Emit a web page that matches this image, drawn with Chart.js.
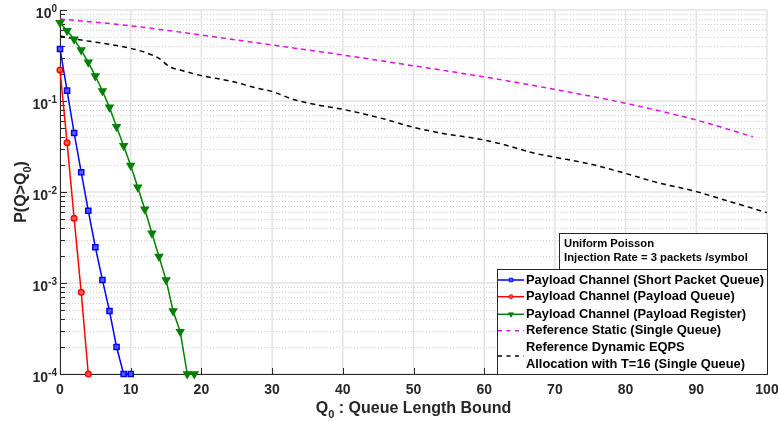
<!DOCTYPE html>
<html>
<head>
<meta charset="utf-8">
<script src="https://cdn.jsdelivr.net/npm/chart.js@4.4.1/dist/chart.umd.min.js"></script>
<style>
  html, body { margin: 0; padding: 0; background: #fff; }
  canvas { display: block; }
</style>
</head>
<body>
<canvas id="chart" width="778" height="421"></canvas>
<script>
// queue length bound Q0 and P(Q > Q0) for each curve
const qShort = [0, 1, 2, 3, 4, 5, 6, 7, 8, 9, 10];
const pShort = [0.373, 0.130, 0.0445, 0.0165, 0.00623, 0.00247, 0.00108, 0.000492, 0.000198, 0.0001, 0.0001];

const qPayload = [0, 1, 2, 3, 4];
const pPayload = [0.219, 0.0348, 0.00514, 0.000791, 0.0001];

const qRegister = [0, 1, 2, 3, 4, 5, 6, 7, 8, 9, 10, 11, 12, 13, 14, 15, 16, 17, 18, 19];
const pRegister = [0.725, 0.592, 0.477, 0.363, 0.266, 0.188, 0.129, 0.0853, 0.0522, 0.0323,
  0.0195, 0.0113, 0.00645, 0.00352, 0.00195, 0.00108, 0.000492, 0.000292, 0.0001, 0.0001];

const qStatic = [0, 9, 20, 30, 40, 50, 60, 70, 80, 90, 98];
const pStatic = [0.796, 0.684, 0.531, 0.413, 0.320, 0.244, 0.184, 0.134, 0.0944, 0.0618, 0.0405];

const qDynamic = [0, 3, 7, 10, 12, 14, 15.5, 17, 20, 24, 28, 30, 33, 36.5, 40, 43, 46, 50, 54, 60, 63, 67, 70, 75, 80, 84, 90, 94, 100];
const pDynamic = [0.518, 0.468, 0.420, 0.379, 0.343, 0.294, 0.238, 0.219, 0.190, 0.166, 0.138, 0.127, 0.104, 0.0904,
  0.0811, 0.0720, 0.0629, 0.0514, 0.0442, 0.0373, 0.0328, 0.0268, 0.0241, 0.0203, 0.0160, 0.0130, 0.0101, 0.00817, 0.00593];

const xTicks = [0, 10, 20, 30, 40, 50, 60, 70, 80, 90, 100];
const yExponents = [0, -1, -2, -3, -4];

const infoLines = ['Uniform Poisson', 'Injection Rate = 3 packets /symbol'];

const INK = '#262626';
const FONT = '"Liberation Sans", Arial, sans-serif';

function pts(xs, ys) {
  return xs.map((x, i) => ({ x: x, y: ys[i] }));
}

function fitFont(ctx, text, width, base) {
  ctx.font = 'bold ' + base + 'px ' + FONT;
  const w = ctx.measureText(text).width;
  return base * width / w;
}

const decor = {
  id: 'decor',
  beforeDatasetsDraw(chart) {
    const { ctx, chartArea: a, scales: { x, y } } = chart;
    ctx.save();
    // minor log grid, dotted
    ctx.lineWidth = 1;
    ctx.strokeStyle = '#d2d2d2';
    ctx.setLineDash([1, 2]);
    for (let k = -4; k < 0; k++) {
      for (let m = 2; m <= 9; m++) {
        const py = Math.round(y.getPixelForValue(m * Math.pow(10, k))) + 0.5;
        ctx.beginPath();
        ctx.moveTo(a.left, py);
        ctx.lineTo(a.right, py);
        ctx.stroke();
      }
    }
    ctx.setLineDash([]);
    // major grid
    ctx.strokeStyle = '#e3e3e3';
    ctx.lineWidth = 1.5;
    yExponents.forEach(e => {
      const py = y.getPixelForValue(Math.pow(10, e));
      ctx.beginPath();
      ctx.moveTo(a.left, py);
      ctx.lineTo(a.right, py);
      ctx.stroke();
    });
    xTicks.forEach(v => {
      const px = x.getPixelForValue(v);
      ctx.beginPath();
      ctx.moveTo(px, a.top);
      ctx.lineTo(px, a.bottom);
      ctx.stroke();
    });
    // axes with inward ticks
    ctx.strokeStyle = INK;
    ctx.lineWidth = 1;
    ctx.beginPath();
    ctx.moveTo(a.left + 0.5, a.top);
    ctx.lineTo(a.left + 0.5, a.bottom + 0.5);
    ctx.lineTo(a.right, a.bottom + 0.5);
    ctx.stroke();
    ctx.beginPath();
    for (let k = -4; k <= 0; k++) {
      for (let m = 1; m <= (k === 0 ? 1 : 9); m++) {
        const py = Math.round(y.getPixelForValue(m * Math.pow(10, k))) + 0.5;
        ctx.moveTo(a.left, py);
        ctx.lineTo(a.left + (m === 1 ? 7 : 5), py);
      }
    }
    xTicks.forEach(v => {
      const px = Math.round(x.getPixelForValue(v)) + 0.5;
      ctx.moveTo(px, a.bottom);
      ctx.lineTo(px, a.bottom - 6);
    });
    ctx.stroke();
    ctx.restore();
  },
  afterDraw(chart) {
    const { ctx, chartArea: a, scales: { x, y } } = chart;
    ctx.save();
    ctx.fillStyle = INK;

    // x tick labels
    ctx.font = 'bold 14px ' + FONT;
    ctx.textAlign = 'center';
    ctx.textBaseline = 'middle';
    xTicks.forEach(v => ctx.fillText(String(v), x.getPixelForValue(v), a.bottom + 16));

    // y tick labels 10^k
    yExponents.forEach(e => {
      const py = y.getPixelForValue(Math.pow(10, e));
      const sup = e === 0 ? '0' : '-' + Math.abs(e);
      ctx.font = 'bold 10px ' + FONT;
      const ws = ctx.measureText(sup).width;
      ctx.textAlign = 'left';
      ctx.fillText(sup, a.left - 3 - ws, py - 1);
      ctx.font = 'bold 14px ' + FONT;
      ctx.textAlign = 'right';
      ctx.fillText('10', a.left - 3 - ws, py + 4);
    });

    // x title: Q0 : Queue Length Bound
    const cx = (a.left + a.right) / 2;
    const ty = a.bottom + 35;
    ctx.font = 'bold 16px ' + FONT;
    const wQ = ctx.measureText('Q').width;
    const rest = ' : Queue Length Bound';
    const wR = ctx.measureText(rest).width;
    ctx.font = 'bold 11px ' + FONT;
    const w0 = ctx.measureText('0').width;
    let sx = cx - (wQ + w0 + wR) / 2;
    ctx.textAlign = 'left';
    ctx.font = 'bold 16px ' + FONT;
    ctx.fillText('Q', sx, ty);
    ctx.font = 'bold 11px ' + FONT;
    ctx.fillText('0', sx + wQ, ty + 6);
    ctx.font = 'bold 16px ' + FONT;
    ctx.fillText(rest, sx + wQ + w0, ty);

    // y title: P(Q>Q0)
    ctx.save();
    ctx.translate(22, (a.top + a.bottom) / 2);
    ctx.rotate(-Math.PI / 2);
    ctx.font = 'bold 16px ' + FONT;
    const p1 = 'P(Q>Q';
    const w1 = ctx.measureText(p1).width;
    const w2 = ctx.measureText(')').width;
    ctx.font = 'bold 11px ' + FONT;
    const wz = ctx.measureText('0').width;
    sx = -(w1 + wz + w2) / 2;
    ctx.font = 'bold 16px ' + FONT;
    ctx.fillText(p1, sx, 0);
    ctx.font = 'bold 11px ' + FONT;
    ctx.fillText('0', sx + w1, 6);
    ctx.font = 'bold 16px ' + FONT;
    ctx.fillText(')', sx + w1 + wz, 0);
    ctx.restore();

    // info box
    const ib = { l: a.right - 208, t: a.bottom - 141, r: a.right, b: a.bottom - 105 };
    ctx.fillStyle = '#fff';
    ctx.fillRect(ib.l, ib.t, ib.r - ib.l, ib.b - ib.t);
    ctx.strokeStyle = INK;
    ctx.lineWidth = 1;
    ctx.strokeRect(Math.round(ib.l) + 0.5, Math.round(ib.t) + 0.5, ib.r - ib.l, ib.b - ib.t);
    const infoSize = fitFont(ctx, infoLines[1], 184, 11);
    ctx.font = 'bold ' + infoSize.toFixed(2) + 'px ' + FONT;
    ctx.fillStyle = '#000';
    ctx.textAlign = 'left';
    ctx.fillText(infoLines[0], ib.l + 5, ib.t + 10.5);
    ctx.fillText(infoLines[1], ib.l + 5, ib.t + 25);

    // legend box
    const lb = { l: a.right - 270, t: a.bottom - 105, r: a.right, b: a.bottom };
    ctx.fillStyle = '#fff';
    ctx.fillRect(lb.l, lb.t, lb.r - lb.l, lb.b - lb.t);
    ctx.strokeRect(Math.round(lb.l) + 0.5, Math.round(lb.t) + 0.5, lb.r - lb.l, lb.b - lb.t);
    const sets = chart.data.datasets;
    const legSize = fitFont(ctx, sets[0].label, 238, 12);
    const rowY = [11, 27.7, 45.3, 61.7, 87];
    sets.forEach((ds, i) => {
      const yy = lb.t + rowY[i];
      const x0 = lb.l + 1, x1 = lb.l + 27;
      ctx.save();
      ctx.strokeStyle = ds.borderColor;
      ctx.lineWidth = 1.5;
      ctx.setLineDash(ds.borderDash ? [4, 4.5] : []);
      ctx.beginPath();
      ctx.moveTo(x0, yy);
      ctx.lineTo(x1, yy);
      ctx.stroke();
      ctx.setLineDash([]);
      if (ds.pointRadius > 0) {
        ctx.fillStyle = ds.pointBackgroundColor;
        ctx.strokeStyle = ds.borderColor;
        ctx.lineWidth = 1;
        Chart.helpers.drawPoint(ctx, {
          pointStyle: ds.pointStyle,
          radius: ds.pointRadius * 0.7,
          rotation: ds.pointRotation || 0,
          borderWidth: 1
        }, (x0 + x1) / 2, yy);
      }
      ctx.restore();
      ctx.fillStyle = '#000';
      ctx.font = 'bold ' + legSize.toFixed(2) + 'px ' + FONT;
      ctx.textAlign = 'left';
      const lines = ds.label.split('\n');
      if (lines.length === 1) {
        ctx.fillText(lines[0], lb.l + 29, yy);
      } else {
        ctx.fillText(lines[0], lb.l + 29, yy - 8.5);
        ctx.fillText(lines[1], lb.l + 29, yy + 8.5);
      }
    });
    ctx.restore();
  }
};

const ctx = document.getElementById('chart').getContext('2d');

const chart = new Chart(ctx, {
  type: 'line',
  data: {
    datasets: [
      {
        label: 'Payload Channel (Short Packet Queue)',
        data: pts(qShort, pShort),
        borderColor: '#0000ff',
        backgroundColor: '#0000ff',
        pointBackgroundColor: 'rgba(90,90,255,0.9)',
        pointStyle: 'rect',
        pointRadius: 3.6,
        borderWidth: 1.5
      },
      {
        label: 'Payload Channel (Payload Queue)',
        data: pts(qPayload, pPayload),
        borderColor: '#ff0000',
        backgroundColor: '#ff0000',
        pointBackgroundColor: 'rgba(255,90,90,0.9)',
        pointStyle: 'circle',
        pointRadius: 2.8,
        borderWidth: 1.5
      },
      {
        label: 'Payload Channel (Payload Register)',
        data: pts(qRegister, pRegister),
        borderColor: '#008000',
        backgroundColor: '#008000',
        pointBackgroundColor: '#008000',
        pointStyle: 'triangle',
        pointRotation: 180,
        pointRadius: 4,
        borderWidth: 1.5
      },
      {
        label: 'Reference Static (Single Queue)',
        data: pts(qStatic, pStatic),
        borderColor: '#e010e0',
        backgroundColor: '#e010e0',
        borderDash: [5, 4],
        pointRadius: 0,
        borderWidth: 1.5,
        cubicInterpolationMode: 'monotone'
      },
      {
        label: 'Reference Dynamic EQPS\nAllocation with T=16 (Single Queue)',
        data: pts(qDynamic, pDynamic),
        borderColor: '#000000',
        backgroundColor: '#000000',
        borderDash: [5, 4],
        pointRadius: 0,
        borderWidth: 1.5,
        cubicInterpolationMode: 'monotone'
      }
    ]
  },
  options: {
    responsive: false,
    animation: false,
    events: [],
    layout: { padding: { top: 10, right: 11, left: 0, bottom: 0 } },
    elements: { point: { borderWidth: 1 } },
    datasets: { line: { clip: false } },
    plugins: {
      legend: { display: false },
      tooltip: { enabled: false }
    },
    scales: {
      x: {
        type: 'linear',
        min: 0,
        max: 100,
        grid: { display: false },
        border: { display: false },
        ticks: { display: false, stepSize: 10 },
        afterFit(s) { s.height = 47; }
      },
      y: {
        type: 'logarithmic',
        min: 0.0001,
        max: 1,
        grid: { display: false },
        border: { display: false },
        ticks: { display: false },
        afterFit(s) { s.width = 60; }
      }
    }
  },
  plugins: [decor]
});
</script>
</body>
</html>
